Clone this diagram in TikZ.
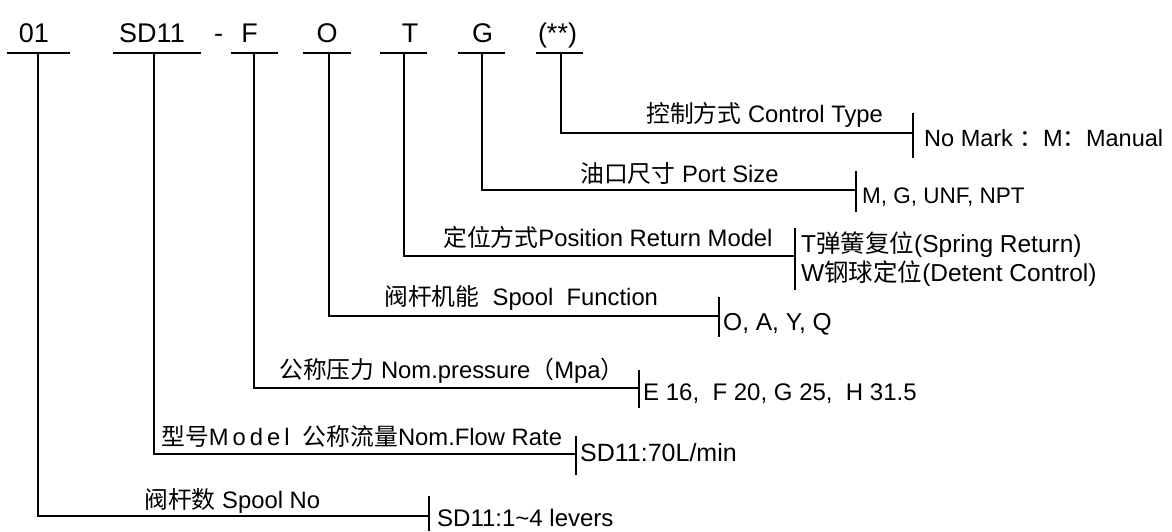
\documentclass[tikz,border=0pt]{standalone}
\usepackage{fontspec}
\setmainfont{Liberation Sans}
\newfontfamily\cjk{Noto Sans CJK SC}
\begin{document}
\begin{tikzpicture}[x=1pt,y=-1pt,
  ln/.style={line width=2.8pt},
  ul/.style={line width=2.4pt},
  tk/.style={line width=2pt},
  code/.style={font=\fontsize{27}{30}\selectfont, anchor=base, inner sep=0pt},
  lab/.style={font=\fontsize{23.8}{27}\selectfont, anchor=base west, inner sep=0pt},
  val/.style={font=\fontsize{24}{28}\selectfont, anchor=base west, inner sep=0pt},
]
\useasboundingbox (0,0) rectangle (1172,531);
% top codes
\node[code] (c01) at (34,42) {01};
\node[code] (csd) at (152,42) {SD11};
\node[code] (cdash) at (218.5,42) {-};
\node[code] (cf) at (249.5,42) {F};
\node[code] (co) at (327,42) {O};
\node[code] (ct) at (410,42) {T};
\node[code] (cg) at (482.5,42) {G};
\node[code] (cs) at (557.5,42) {(**)};
% underlines
\coordinate (u1a) at (7,53);   \coordinate (u1b) at (70,53);
\coordinate (u2a) at (113,53); \coordinate (u2b) at (201,53);
\coordinate (u3a) at (231,53); \coordinate (u3b) at (278,53);
\coordinate (u4a) at (303,53); \coordinate (u4b) at (351,53);
\coordinate (u5a) at (380,53); \coordinate (u5b) at (427,53);
\coordinate (u6a) at (458,53); \coordinate (u6b) at (505,53);
\coordinate (u7a) at (536,53); \coordinate (u7b) at (583,53);
\foreach \i in {1,...,7}{\draw[ul] (u\i a) -- (u\i b);}
% branch start points
\coordinate (s1) at (38,53);
\coordinate (s2) at (154,53);
\coordinate (s3) at (254,53);
\coordinate (s4) at (329,53);
\coordinate (s5) at (404,53);
\coordinate (s6) at (482,53);
\coordinate (s7) at (561,53);
% branch end points (ticks)
\coordinate (e1) at (429,516);
\coordinate (e2) at (576,454);
\coordinate (e3) at (639,388);
\coordinate (e4) at (719,316);
\coordinate (e5) at (795,256);
\coordinate (e6) at (856,190);
\coordinate (e7) at (913,133);
\foreach \i in {1,...,7}{\draw[ln] (s\i) |- (e\i);}
% ticks
\draw[tk] ([yshift=20pt]e1) -- ([yshift=-15pt]e1);
\draw[tk] ([yshift=18pt]e2) -- ([yshift=-21pt]e2);
\draw[tk] ([yshift=18pt]e3) -- ([yshift=-20pt]e3);
\draw[tk] ([yshift=19pt]e4) -- ([yshift=-21pt]e4);
\draw[tk] ([yshift=28pt]e5) -- ([yshift=-34pt]e5);
\draw[tk] ([yshift=19pt]e6) -- ([yshift=-22pt]e6);
\draw[tk] ([yshift=20pt]e7) -- ([yshift=-25pt]e7);
% labels and values
\node[lab] (l7) at (646,122) {{\cjk 控制方式} Control Type};
\node[val, font=\fontsize{23.5}{27}\selectfont] (r7) at (924,146) {No Mark {\cjk ：}M{\cjk ：}Manual};
\node[lab] (l6) at (580,182) {{\cjk 油口尺寸} Port Size};
\node[val, font=\fontsize{22.5}{26}\selectfont] (r6) at (862,203) {M, G, UNF, NPT};
\node[lab] (l5) at (443,246) {{\cjk 定位方式}Position Return Model};
\node[val, font=\fontsize{24.5}{28}\selectfont] (r5a) at (801,252) {T{\cjk 弹簧复位}(Spring Return)};
\node[val, font=\fontsize{24.5}{28}\selectfont] (r5b) at (801,281) {W{\cjk 钢球定位}(Detent Control)};
\node[lab] (l4) at (384,305) {{\cjk 阀杆机能}\ \ Spool\ \ Function};
\node[val, font=\fontsize{24.5}{28}\selectfont] (r4) at (723,330) {O, A, Y, Q};
\node[lab] (l3) at (279,378) {{\cjk 公称压力} Nom.pressure{\cjk （}Mpa{\cjk ）}};
\node[val] (r3) at (643,400) {E 16,\ \ F 20, G 25,\ \ H 31.5};
\node[lab] (l2) at (161,445) {{\cjk 型号}M\kern4pt o\kern4pt d\kern4pt e\kern4pt l\ \ {\cjk 公称流量}Nom.Flow Rate};
\node[val, font=\fontsize{25}{29}\selectfont] (r2) at (580,461) {SD11:70L/min};
\node[lab] (l1) at (144,508) {{\cjk 阀杆数} Spool No};
\node[val] (r1) at (437,526) {SD11:1\textasciitilde 4 levers};
\end{tikzpicture}
\end{document}
